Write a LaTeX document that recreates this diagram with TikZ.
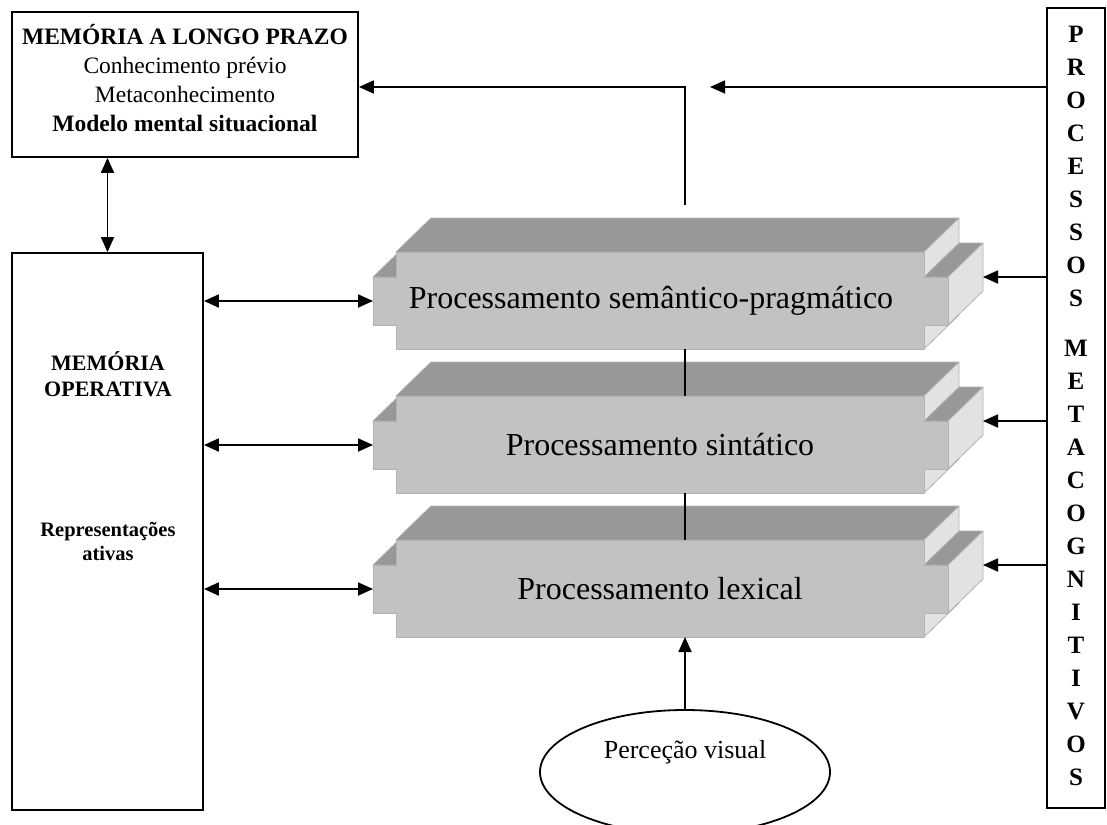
\documentclass[tikz,border=0pt]{standalone}
\usepackage{fontspec}
\setmainfont{Liberation Serif}
\usetikzlibrary{arrows.meta,shapes.geometric}
\definecolor{pb_front}{RGB}{194,194,194}
\definecolor{pb_top}{RGB}{152,152,152}
\definecolor{pb_side}{RGB}{226,226,226}
\definecolor{pb_edge}{RGB}{178,178,178}
\tikzstyle{bx}=[rectangle,draw=black,line width=1.8pt,fill=white,inner sep=0pt]
\tikzstyle{el}=[ellipse,draw=black,line width=1.8pt,fill=white,
  minimum width=290pt,minimum height=124pt]
\tikzstyle{pt}=[font=\fontsize{32}{38}\selectfont]
\tikzstyle{none}=[inner sep=0pt]
\tikzstyle{ln}=[line width=1.8pt]
\tikzstyle{ar}=[line width=1.8pt,-{Triangle[length=15pt,width=13pt]}]
\tikzstyle{dar}=[line width=1.8pt,
  {Triangle[length=15pt,width=13pt]}-{Triangle[length=15pt,width=13pt]}]
\tikzstyle{face}=[draw=pb_edge,line width=0.8pt,line join=round]
% 3D block, #1 = y of the front top edge
\newcommand{\pblock}[1]{%
  \path[face,fill=pb_top] (373,#1+25) -- (396,#1+25) -- (431,#1-9) -- (408,#1-9) -- cycle;
  \path[face,fill=pb_top] (396,#1) -- (924,#1) -- (959,#1-34) -- (431,#1-34) -- cycle;
  \path[face,fill=pb_side] (924,#1) -- (959,#1-34) -- (959,#1+63) -- (924,#1+97) -- cycle;
  \path[face,fill=pb_top] (924,#1+25) -- (948,#1+25) -- (983,#1-9) -- (959,#1-9) -- cycle;
  \path[face,fill=pb_side] (948,#1+25) -- (983,#1-9) -- (983,#1+39) -- (948,#1+73) -- cycle;
  \path[face,fill=pb_front] (396,#1) -- (924,#1) -- (924,#1+25) -- (948,#1+25)
    -- (948,#1+73) -- (924,#1+73) -- (924,#1+97) -- (396,#1+97) -- (396,#1+73)
    -- (373,#1+73) -- (373,#1+25) -- (396,#1+25) -- cycle;
}

\begin{document}
\begin{tikzpicture}[x=1pt,y=-1pt]
            \useasboundingbox (0,0) rectangle (1107,824);
            \pblock{252}
            \pblock{396}
            \pblock{540}
            \node [style=bx, minimum width=346pt, minimum height=145pt,
              font=\fontsize{23.5}{29}\selectfont] (0) at (185,84.5)
              {\raisebox{2.5pt}[\height][\depth]{\begin{tabular}{@{}c@{}}\textbf{MEMÓRIA A LONGO PRAZO}\\Conhecimento prévio\\Metaconhecimento\\\textbf{Modelo mental situacional}\end{tabular}}};
            \node [style=bx, minimum width=191pt, minimum height=557pt] (1) at (107.5,531.5) {};
            \node [style=bx, minimum width=58pt, minimum height=800pt] (2) at (1076,408) {};
            \node [style=el] (3) at (685,772) {};
            \node [style=pt] (4) at (651,300.5) {Processamento semântico-pragmático};
            \node [style=pt] (5) at (660,444.5) {Processamento sintático};
            \node [style=pt] (6) at (660,588.5) {Processamento lexical};
            \node [style=none] (10) at (373,301) {};
            \node [style=none] (11) at (373,445) {};
            \node [style=none] (12) at (373,589) {};
            \node [style=none] (13) at (983,277) {};
            \node [style=none] (14) at (983,421) {};
            \node [style=none] (15) at (983,565) {};
            \node [style=none] (16) at (685,205) {};
            \node [style=none] (17) at (710,87) {};
            \node [style=none] (18) at (685,349) {};
            \node [style=none] (19) at (685,396) {};
            \node [style=none] (20) at (685,493) {};
            \node [style=none] (21) at (685,540) {};
            \node [style=none] (22) at (685,637) {};
            \node [align=center, font=\bfseries\fontsize{22}{26}\selectfont] (23) at (108,374) {MEMÓRIA\\OPERATIVA};
            \node [align=center, font=\bfseries\fontsize{20.5}{24}\selectfont] (24) at (108,541) {Representações\\ativas};
            \node [align=center, font=\bfseries\fontsize{25}{33}\selectfont] (25) at (1076,406)
              {P\\R\\O\\C\\E\\S\\S\\O\\S\\[17pt]M\\E\\T\\A\\C\\O\\G\\N\\I\\T\\I\\V\\O\\S};
            \node [font=\fontsize{26}{30}\selectfont] (26) at (685,752) {Perceção visual};
            \draw [style=dar] (1.north |- 0.south) to (1.north);
            \draw [style=dar] (1.east |- 10.center) to (10.center);
            \draw [style=dar] (1.east |- 11.center) to (11.center);
            \draw [style=dar] (1.east |- 12.center) to (12.center);
            \draw [style=ar] (2.west |- 13.center) to (13.center);
            \draw [style=ar] (2.west |- 14.center) to (14.center);
            \draw [style=ar] (2.west |- 15.center) to (15.center);
            \draw [style=ar] (2.west |- 17.center) to (17.center);
            \draw [style=ar] (16.center) |- (0.east |- 17.center);
            \draw [style=ln] (18.center) to (19.center);
            \draw [style=ln] (20.center) to (21.center);
            \draw [style=ar] (3.north) to (22.center);
\end{tikzpicture}
\end{document}
